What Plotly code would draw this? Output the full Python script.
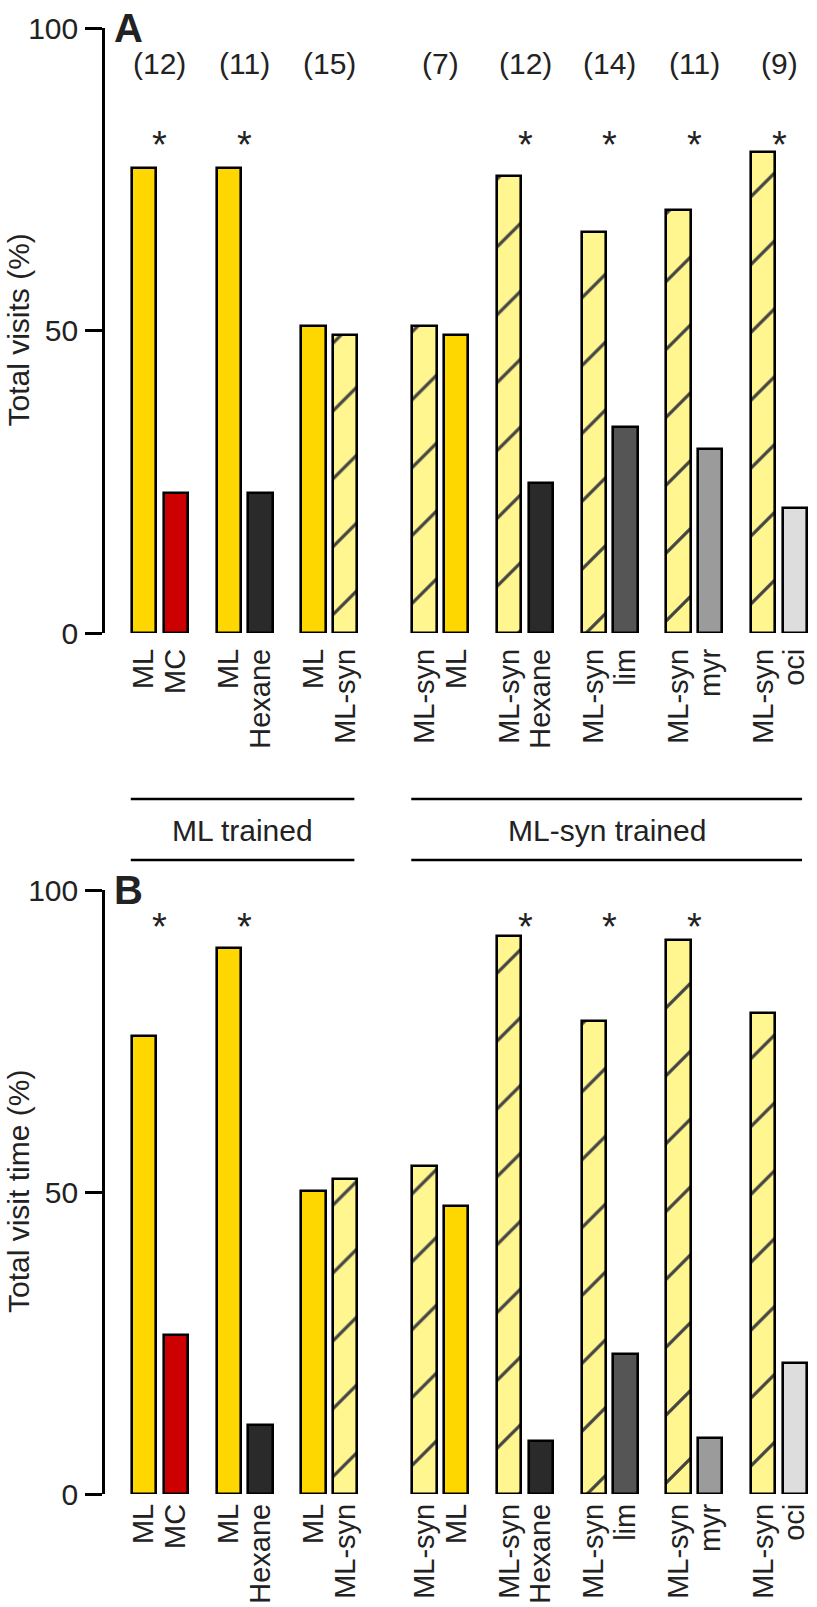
import plotly.graph_objects as go

# ---------------- data ----------------
first_labels = ["ML", "ML", "ML", "ML-syn", "ML-syn", "ML-syn", "ML-syn", "ML-syn"]
second_labels = ["MC", "Hexane", "ML-syn", "ML", "Hexane", "lim", "myr", "oci"]
counts = ["(12)", "(11)", "(15)", "(7)", "(12)", "(14)", "(11)", "(9)"]

visits_first = [76.9, 76.9, 50.8, 50.8, 75.5, 66.2, 69.9, 79.5]
visits_second = [23.1, 23.1, 49.2, 49.2, 24.8, 34.1, 30.4, 20.7]

time_first = [75.9, 90.4, 50.1, 54.3, 92.4, 78.3, 91.8, 79.7]
time_second = [26.4, 11.4, 52.1, 47.7, 8.8, 23.1, 9.3, 21.7]

sig_visits = [1, 1, 0, 0, 1, 1, 1, 1]
sig_time = [1, 1, 0, 0, 1, 1, 1, 0]

group_names = ["ML trained", "ML-syn trained"]
n_first_group = 3  # groups belonging to "ML trained"

# ---------------- styles ----------------
fill = {
    "ML": "#FFD700",
    "ML-syn": "#FFF68F",
    "MC": "#CC0000",
    "Hexane": "#2A2A2A",
    "lim": "#555555",
    "myr": "#9B9B9B",
    "oci": "#DDDDDD",
}
FONT = "Arial, Liberation Sans, sans-serif"
TXT = "#222222"
FS = 30
W, H = 817, 1607

# layout of the bars (in bar-width units)
pair_step, group_step, extra_gap = 1.2, 3.2, 1.0
centers = []
xs, labels = [], []
for g in range(len(first_labels)):
    base = g * group_step + (extra_gap if g >= n_first_group else 0)
    xs += [base, base + pair_step]
    labels += [first_labels[g], second_labels[g]]
    centers.append(base + pair_step / 2)

px_per_unit = 26.46
x_left_px = 105
first_center_px = 144
x0 = -(first_center_px - x_left_px) / px_per_unit
x1 = x0 + (W - x_left_px) / px_per_unit
xdom = [x_left_px / W, 1]

colors = [fill[l] for l in labels]
shapes_pat = ["/" if l == "ML-syn" else "" for l in labels]


def interleave(a, b):
    out = []
    for u, v in zip(a, b):
        out += [u, v]
    return out


fig = go.Figure()
for vals, xa, ya in [
    (interleave(visits_first, visits_second), "x", "y"),
    (interleave(time_first, time_second), "x2", "y2"),
]:
    fig.add_trace(go.Bar(
        x=xs, y=vals, xaxis=xa, yaxis=ya, width=0.92,
        marker=dict(
            color=colors,
            line=dict(color="black", width=2.6),
            pattern=dict(shape=shapes_pat, size=48, solidity=0.068,
                         fgcolor="black", fgopacity=1, bgcolor=colors,
                         fillmode="overlay"),
        ),
        cliponaxis=False, showlegend=False, hoverinfo="skip",
    ))

# domains (page pixels -> paper)
A_top, A_bot = 28, 633
B_top, B_bot = 890, 1494
ydomA = [(H - A_bot) / H, (H - A_top) / H]
ydomB = [(H - B_bot) / H, (H - B_top) / H]

xaxis_common = dict(
    domain=xdom, range=[x0, x1], tickmode="array", tickvals=xs, ticktext=labels,
    tickangle=-90, ticks="", showline=False, showgrid=False, zeroline=False,
    tickfont=dict(family=FONT, size=29, color=TXT),
    automargin=False,
)
yaxis_common = dict(
    range=[0, 100], tickmode="array", tickvals=[0, 50, 100],
    ticks="outside", ticklen=17, tickwidth=2.6, tickcolor="black",
    showline=True, linewidth=2.6, linecolor="black", showgrid=False, zeroline=False,
    tickfont=dict(family=FONT, size=FS, color=TXT), ticklabelstandoff=1,
    automargin=False,
)

fig.update_layout(
    width=W, height=H, margin=dict(l=0, r=0, t=0, b=0),
    paper_bgcolor="white", plot_bgcolor="white",
    xaxis=dict(anchor="y", ticklabelstandoff=9, **xaxis_common),
    xaxis2=dict(anchor="y2", ticklabelstandoff=3, **xaxis_common),
    yaxis=dict(domain=ydomA, anchor="x", **yaxis_common),
    yaxis2=dict(domain=ydomB, anchor="x2", **yaxis_common),
    bargap=0,
)

ann = []
fnt = dict(family=FONT, size=FS, color=TXT)
fstar = dict(family=FONT, size=38, color=TXT)
for c, n, s in zip(centers, counts, sig_visits):
    ann.append(dict(x=c, y=94.2, xref="x", yref="y", text=n, showarrow=False, font=fnt))
    if s:
        ann.append(dict(x=c, y=80.6, xref="x", yref="y", text="*", showarrow=False, font=fstar))
for c, s in zip(centers, sig_time):
    if s:
        ann.append(dict(x=c, y=93.8, xref="x2", yref="y2", text="*", showarrow=False, font=fstar))

for letter, yr in [("A", "y"), ("B", "y2")]:
    ann.append(dict(x=112 / W, y=100, xref="paper", yref=yr, text="<b>%s</b>" % letter,
                    xanchor="left", yanchor="middle", showarrow=False,
                    font=dict(family=FONT, size=40, color=TXT)))

for title, yr in [("Total visits (%)", "y"), ("Total visit time (%)", "y2")]:
    ann.append(dict(x=18 / W, y=50, xref="paper", yref=yr, text=title, textangle=-90,
                    xanchor="center", yanchor="middle", showarrow=False, font=fnt))

# group brackets between the panels
line_top = (H - 799) / H
line_bot = (H - 860) / H
text_y = (H - 831) / H
spans = [(xs[0] - 0.5, xs[2 * n_first_group - 1] + 0.35),
         (xs[2 * n_first_group] - 0.5, xs[-1] + 0.27)]
shapes = []
for (a, b), name in zip(spans, group_names):
    for yy in (line_top, line_bot):
        shapes.append(dict(type="line", xref="x", yref="paper", x0=a, x1=b, y0=yy, y1=yy,
                           line=dict(color="black", width=2.6)))
    ann.append(dict(x=(a + b) / 2, y=text_y, xref="x", yref="paper", text=name,
                    showarrow=False, font=fnt, yanchor="middle"))

fig.update_layout(annotations=ann, shapes=shapes)
fig.write_html(
    "out.html",
    config={"displayModeBar": False},
    post_script="document.body.style.margin='0px';document.body.style.padding='0px';"
                "document.body.style.overflow='hidden';",
)
